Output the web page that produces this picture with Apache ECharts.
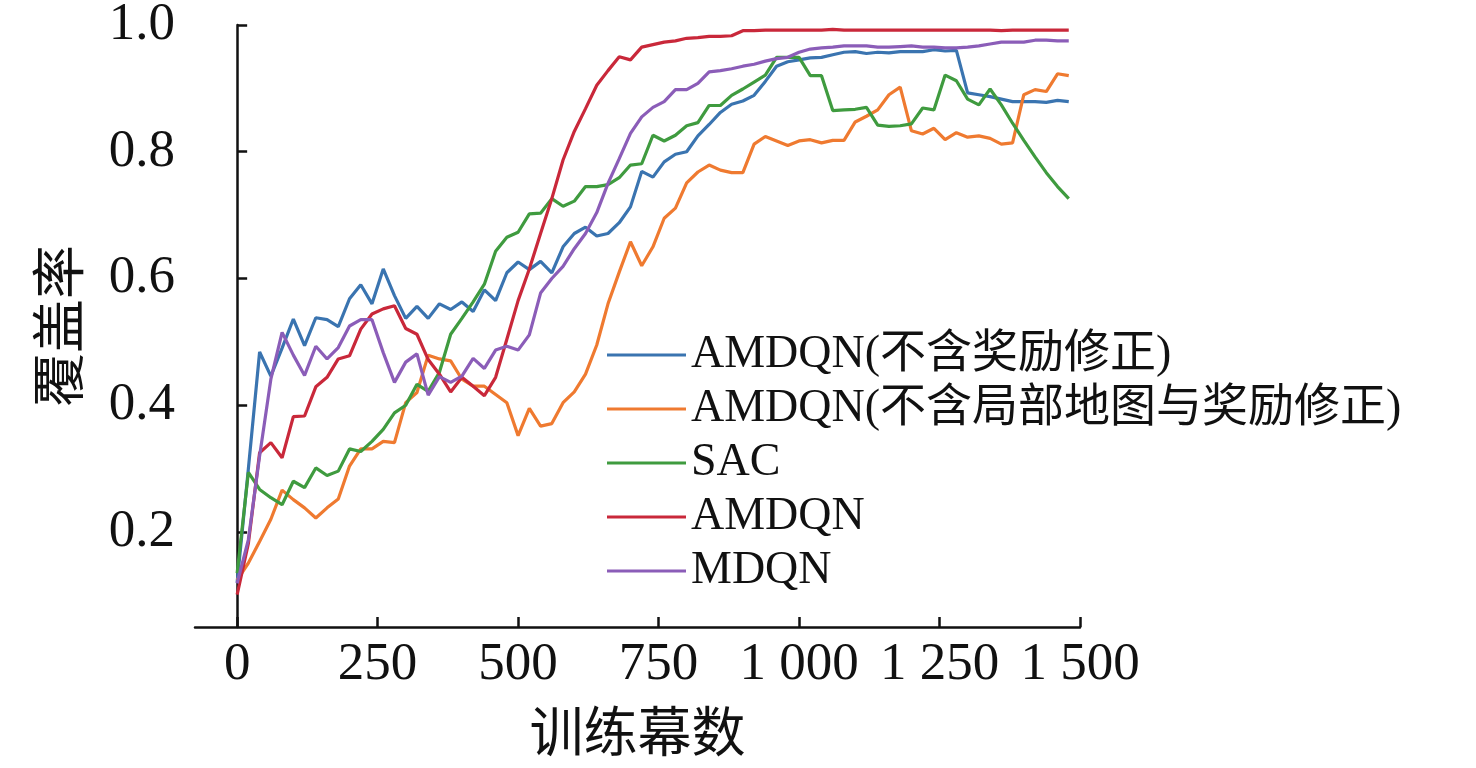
<!doctype html>
<html>
<head>
<meta charset="utf-8">
<title>覆盖率</title>
<script src="https://cdn.jsdelivr.net/npm/echarts@6/dist/echarts.min.js"></script>
<style>
  html, body, #main { margin: 0; padding: 0; width: 100%; height: 100%; background: #fff; }
</style>
</head>
<body>
<div id="main"></div>
<script>
  // episodes, one point every 20
  var episodes = [];
  for (var e = 0; e <= 1480; e += 20) episodes.push(e);

  var xTicks = [0, 250, 500, 750, 1000, 1250, 1500];
  var yTicks = [0.2, 0.4, 0.6, 0.8, 1.0];

  var seriesNames = [
    'AMDQN(不含奖励修正)',
    'AMDQN(不含局部地图与奖励修正)',
    'SAC',
    'AMDQN',
    'MDQN'
  ];
  var colors = ['#3a74b0', '#ef7a30', '#3f9b3f', '#c9283a', '#8b5db8'];

  var noReward = [
    0.120, 0.300, 0.484, 0.446, 0.490, 0.536, 0.494, 0.538, 0.535, 0.524,
    0.568, 0.590, 0.560, 0.615, 0.573, 0.537, 0.556, 0.537, 0.560, 0.551,
    0.563, 0.548, 0.582, 0.565, 0.609, 0.626, 0.614, 0.627, 0.609, 0.650,
    0.671, 0.681, 0.667, 0.671, 0.688, 0.713, 0.769, 0.760, 0.784, 0.796,
    0.800, 0.825, 0.843, 0.862, 0.875, 0.880, 0.889, 0.911, 0.935, 0.942,
    0.945, 0.948, 0.949, 0.953, 0.957, 0.958, 0.955, 0.957, 0.956, 0.958,
    0.958, 0.958, 0.961, 0.959, 0.960, 0.893, 0.890, 0.887, 0.883, 0.879,
    0.879, 0.879, 0.878, 0.881, 0.879
  ];
  var noMapNoReward = [
    0.124, 0.151, 0.185, 0.220, 0.266, 0.251, 0.238, 0.222, 0.238, 0.252,
    0.304, 0.331, 0.331, 0.343, 0.341, 0.404, 0.420, 0.479, 0.473, 0.470,
    0.441, 0.430, 0.430, 0.417, 0.404, 0.352, 0.395, 0.367, 0.371, 0.404,
    0.421, 0.449, 0.495, 0.560, 0.610, 0.658, 0.620, 0.650, 0.695, 0.711,
    0.751, 0.768, 0.779, 0.771, 0.767, 0.767, 0.812, 0.824, 0.817, 0.810,
    0.817, 0.819, 0.814, 0.818, 0.818, 0.847, 0.856, 0.866, 0.890, 0.902,
    0.833, 0.828, 0.837, 0.819, 0.830, 0.823, 0.825, 0.821, 0.812, 0.814,
    0.890, 0.898, 0.895, 0.923, 0.920
  ];
  var sac = [
    0.135, 0.294, 0.267, 0.254, 0.243, 0.280, 0.270, 0.301, 0.289, 0.296,
    0.331, 0.327, 0.343, 0.362, 0.388, 0.400, 0.433, 0.422, 0.452, 0.512,
    0.537, 0.563, 0.591, 0.643, 0.665, 0.673, 0.702, 0.703, 0.726, 0.714,
    0.722, 0.745, 0.745, 0.748, 0.759, 0.779, 0.781, 0.826, 0.817, 0.826,
    0.841, 0.846, 0.873, 0.873, 0.889, 0.899, 0.910, 0.921, 0.949, 0.949,
    0.949, 0.920, 0.920, 0.865, 0.866, 0.867, 0.870, 0.842, 0.840, 0.841,
    0.844, 0.869, 0.866, 0.921, 0.912, 0.883, 0.874, 0.899, 0.874, 0.845,
    0.818, 0.792, 0.767, 0.745, 0.726
  ];
  var amdqn = [
    0.101, 0.182, 0.325, 0.341, 0.317, 0.382, 0.383, 0.429, 0.444, 0.473,
    0.478, 0.520, 0.544, 0.552, 0.557, 0.521, 0.512, 0.472, 0.449, 0.421,
    0.444, 0.430, 0.415, 0.444, 0.504, 0.565, 0.615, 0.671, 0.726, 0.787,
    0.832, 0.868, 0.905, 0.928, 0.950, 0.945, 0.965, 0.969, 0.973, 0.975,
    0.979, 0.980, 0.982, 0.982, 0.983, 0.991, 0.991, 0.992, 0.992, 0.992,
    0.992, 0.992, 0.992, 0.993, 0.992, 0.992, 0.992, 0.992, 0.992, 0.992,
    0.992, 0.992, 0.992, 0.992, 0.992, 0.992, 0.992, 0.992, 0.991, 0.992,
    0.992, 0.992, 0.992, 0.992, 0.992
  ];
  var mdqn = [
    0.119, 0.188, 0.320, 0.441, 0.515, 0.479, 0.447, 0.493, 0.473, 0.491,
    0.525, 0.535, 0.535, 0.483, 0.436, 0.468, 0.481, 0.416, 0.445, 0.436,
    0.446, 0.474, 0.458, 0.487, 0.493, 0.487, 0.511, 0.577, 0.600, 0.619,
    0.647, 0.671, 0.704, 0.750, 0.789, 0.829, 0.855, 0.870, 0.879, 0.898,
    0.898, 0.908, 0.926, 0.928, 0.931, 0.935, 0.938, 0.943, 0.947, 0.949,
    0.957, 0.962, 0.964, 0.965, 0.967, 0.967, 0.967, 0.965, 0.965, 0.966,
    0.967, 0.965, 0.965, 0.964, 0.964, 0.965, 0.967, 0.970, 0.973, 0.973,
    0.973, 0.976, 0.976, 0.975, 0.975
  ];

  var allValues = [noReward, noMapNoReward, sac, amdqn, mdqn];

  var serif = "'Liberation Serif', 'Times New Roman', 'Noto Sans CJK SC', serif";

  function pairs(vals) {
    return vals.map(function (v, i) { return [episodes[i], v]; });
  }

  var chart = echarts.init(document.getElementById('main'));

  var option = {
    animation: false,
    color: colors,
    grid: { left: 195, right: 396, top: 25, bottom: 141, containLabel: false, outerBoundsMode: 'none' },
    legend: {
      orient: 'vertical',
      left: 602,
      top: 325,
      icon: 'rect',
      itemWidth: 79,
      itemHeight: 3,
      itemGap: 4,
      textStyle: { fontFamily: serif, fontSize: 46, lineHeight: 50, color: '#111' },
      data: seriesNames
    },
    xAxis: {
      type: 'value',
      min: -75,
      max: 1500,
      name: '训练幕数',
      nameLocation: 'middle',
      nameGap: 84,
      nameMoveOverlap: false,
      nameTextStyle: { fontFamily: serif, fontSize: 54, color: '#111' },
      axisLine: { lineStyle: { color: '#111', width: 2.5 } },
      axisTick: { inside: true, length: 10, lineStyle: { width: 2.5, color: '#111' }, customValues: xTicks },
      axisLabel: {
        fontFamily: serif, fontSize: 53, color: '#111', margin: 12,
        customValues: xTicks,
        formatter: function (v) { return v >= 1000 ? Math.floor(v / 1000) + ' ' + String(v % 1000).padStart(3, '0') : String(v); }
      },
      splitLine: { show: false }
    },
    yAxis: {
      type: 'value',
      min: 0.05,
      max: 1.0,
      name: '覆盖率',
      nameLocation: 'middle',
      nameGap: 103,
      nameRotate: 90,
      nameMoveOverlap: false,
      nameTextStyle: { fontFamily: serif, fontSize: 54, color: '#111' },
      axisLine: { show: true, lineStyle: { color: '#111', width: 2.5 } },
      axisTick: { show: true, inside: true, length: 10, lineStyle: { width: 2.5, color: '#111' }, customValues: yTicks },
      axisLabel: {
        fontFamily: serif, fontSize: 53, color: '#111', margin: 20,
        customValues: yTicks,
        formatter: function (v) { return v.toFixed(1); }
      },
      splitLine: { show: false }
    },
    series: allValues.map(function (vals, k) {
      return {
        name: seriesNames[k],
        type: 'line',
        data: pairs(vals),
        symbol: 'none',
        showSymbol: false,
        lineStyle: { width: 3.2, color: colors[k] },
        itemStyle: { color: colors[k] },
        z: 2 + k
      };
    })
  };

  chart.setOption(option);
</script>
</body>
</html>
